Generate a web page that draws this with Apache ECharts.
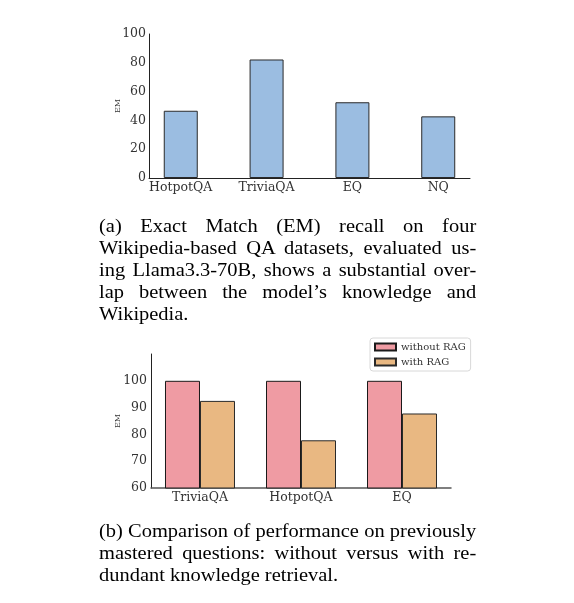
<!DOCTYPE html>
<html>
<head>
<meta charset="utf-8">
<script src="https://cdn.jsdelivr.net/npm/echarts@6/dist/echarts.min.js"></script>
<style>
  html, body { margin: 0; padding: 0; background: #fff; }
  #wrap { position: relative; width: 574px; height: 603px; }
  #chart { position: absolute; left: 0; top: 0; width: 574px; height: 603px; }
  .caption { position: absolute; left: 99px; font-family: "Liberation Serif", "Times New Roman", serif;
             font-size: 17.8px; line-height: 22px; color: #000; }
  /* the reference text is a bit wider than plain Times, so stretch it sideways */
  .caption div { width: 328px; transform: scaleX(1.15); transform-origin: 0 0;
                 text-align: justify; text-align-last: justify; white-space: nowrap; }
  .caption div.last { text-align-last: left; }
</style>
</head>
<body>
<div id="wrap">
  <div id="chart"></div>
  <div class="caption" id="capA" style="top:215px"></div>
  <div class="caption" id="capB" style="top:520px"></div>
</div>
<script>
// (a) EM recall, Llama3.3-70B
const datasetsA = ['HotpotQA', 'TriviaQA', 'EQ', 'NQ'];
const emA = [46.7, 82.3, 52.6, 42.8];

// (b) mastered questions, without / with RAG
const datasetsB = ['TriviaQA', 'HotpotQA', 'EQ'];
const withoutRAG = [100, 100, 100];
const withRAG = [92.5, 77.8, 87.8];

const yTicksA = [0, 20, 40, 60, 80, 100];
const yTicksB = [60, 70, 80, 90, 100];

const captionA = [
    '(a) Exact Match (EM) recall on four',
    'Wikipedia-based QA datasets, evaluated us-',
    'ing Llama3.3-70B, shows a substantial over-',
    'lap between the model\u2019s knowledge and',
    'Wikipedia.'
];
const captionB = [
    '(b) Comparison of performance on previously',
    'mastered questions:  without versus with re-',
    'dundant knowledge retrieval.'
];

function fillCaption(id, lines) {
    let box = document.getElementById(id);
    lines.forEach(function (t, i) {
        let d = document.createElement('div');
        d.textContent = t;
        if (i === lines.length - 1) d.className = 'last';
        box.appendChild(d);
    });
}
fillCaption('capA', captionA);
fillCaption('capB', captionB);

let chartDom = document.getElementById('chart');
let myChart = echarts.init(chartDom);

const serif = 'DejaVu Serif';
const tickLabel = { fontFamily: serif, fontSize: 12.5, color: '#333' };

let option = {
    animation: false,
    legend: {
        data: ['without RAG', 'with RAG'],
        orient: 'vertical',
        left: 370,
        top: 338,
        icon: 'rect',
        itemWidth: 21,
        itemHeight: 7,
        itemGap: 5,
        padding: [4, 5, 4, 4],
        borderColor: '#d8d8d8',
        borderWidth: 1,
        borderRadius: 3,
        backgroundColor: '#fff',
        textStyle: { fontFamily: serif, fontSize: 10, color: '#333' }
    },
    grid: [
        { left: 149, right: 104, top: 34, bottom: 425 },
        { left: 151, right: 123, top: 354, bottom: 115 }
    ],
    xAxis: [
        {
            type: 'value', gridIndex: 0, min: -0.37, max: 3.37,
            splitLine: { show: false },
            axisLine: { show: true, lineStyle: { color: '#222', width: 1 } },
            axisTick: { show: false },
            axisLabel: Object.assign({
                customValues: [0, 1, 2, 3],
                margin: 3,
                formatter: function (v) { return datasetsA[Math.round(v)]; }
            }, tickLabel)
        },
        {
            type: 'value', gridIndex: 1, min: -0.485, max: 2.485,
            splitLine: { show: false },
            axisLine: { show: true, lineStyle: { color: '#555', width: 1.5 } },
            axisTick: { show: false },
            axisLabel: Object.assign({
                customValues: [0, 1, 2],
                margin: 3,
                formatter: function (v) { return datasetsB[Math.round(v)]; }
            }, tickLabel)
        }
    ],
    yAxis: [
        {
            type: 'value', gridIndex: 0, min: 0, max: 100,
            name: 'EM', nameLocation: 'middle', nameGap: 27, nameMoveOverlap: false,
            nameTextStyle: { fontFamily: serif, fontSize: 8, color: '#333' },
            splitLine: { show: false },
            axisLine: { show: true, onZero: false, lineStyle: { color: '#222', width: 1 } },
            axisTick: { show: false },
            axisLabel: Object.assign({ customValues: yTicksA, margin: 3 }, tickLabel)
        },
        {
            type: 'value', gridIndex: 1, min: 60, max: 110,
            name: 'EM', nameLocation: 'middle', nameGap: 29, nameMoveOverlap: false,
            nameTextStyle: { fontFamily: serif, fontSize: 8, color: '#333' },
            splitLine: { show: false },
            axisLine: { show: true, onZero: false, lineStyle: { color: '#222', width: 1 } },
            axisTick: { show: false },
            axisLabel: Object.assign({ customValues: yTicksB, margin: 4 }, tickLabel)
        }
    ],
    series: [
        {
            name: 'EM',
            type: 'bar',
            xAxisIndex: 0, yAxisIndex: 0,
            barWidth: 34,
            itemStyle: { color: '#9bbde1', borderColor: '#2a2a2a', borderWidth: 1 },
            data: emA.map(function (v, i) { return [i, v]; })
        },
        {
            name: 'without RAG',
            type: 'bar',
            xAxisIndex: 1, yAxisIndex: 1,
            barWidth: 35,
            barGap: '0%',
            itemStyle: { color: '#ef9ba3', borderColor: '#1a1a1a', borderWidth: 1 },
            data: withoutRAG.map(function (v, i) { return [i, v]; })
        },
        {
            name: 'with RAG',
            type: 'bar',
            xAxisIndex: 1, yAxisIndex: 1,
            barWidth: 35,
            barGap: '0%',
            itemStyle: { color: '#e9b882', borderColor: '#2a2a2a', borderWidth: 1 },
            data: withRAG.map(function (v, i) { return [i, v]; })
        }
    ]
};

option && myChart.setOption(option);
</script>
</body>
</html>
